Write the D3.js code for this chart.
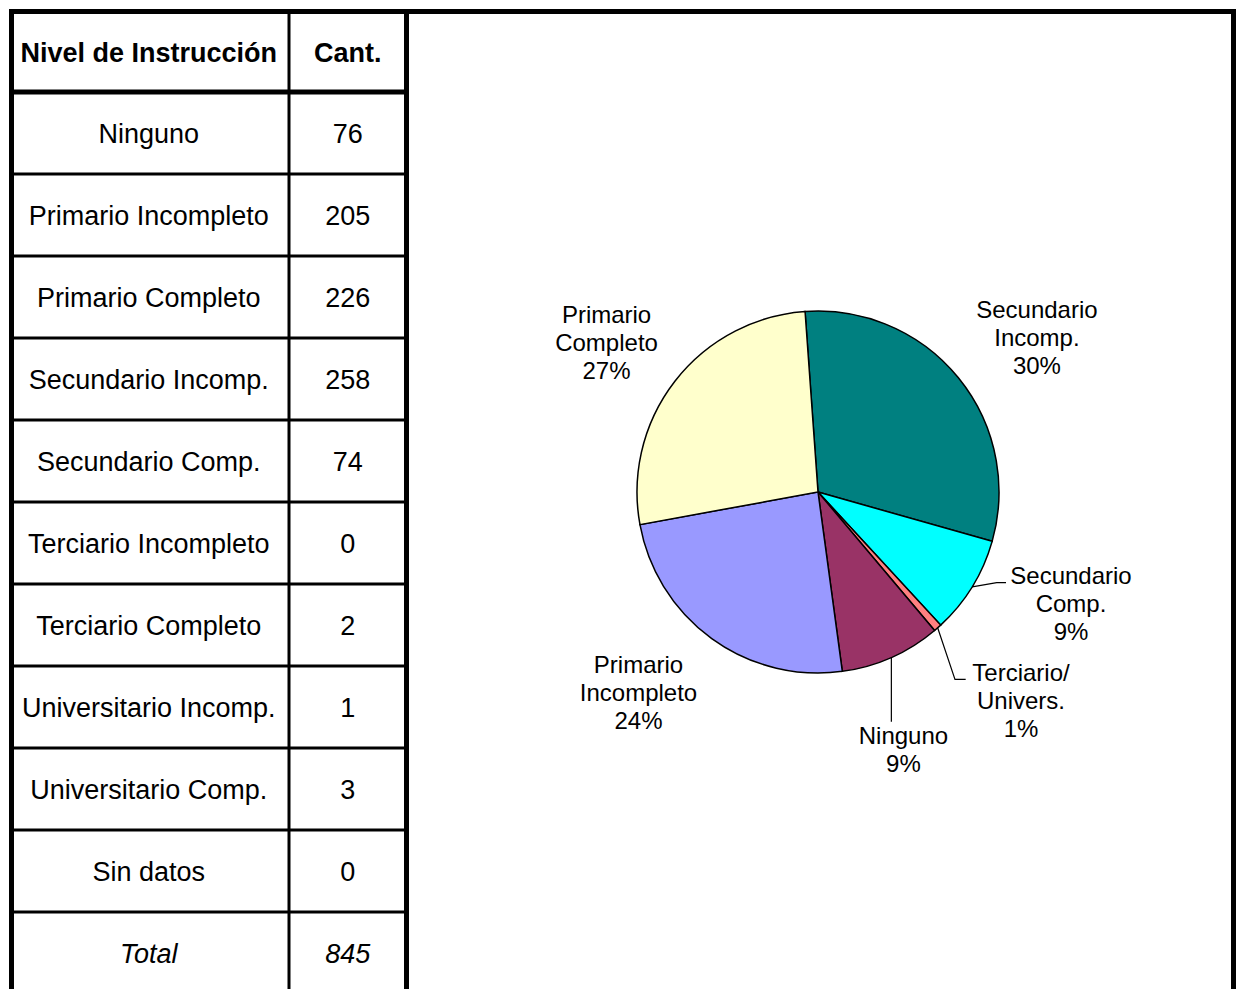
<!DOCTYPE html>
<html>
  <head>
    <meta charset="utf-8">
    <title>Nivel de Instrucción</title>
    <style>
      body { margin: 0; background: #fff; }
      svg { font-family: "Liberation Sans", Arial, sans-serif; }
      .cell { font-size: 27px; fill: #000; }
      .head { font-weight: bold; }
      .total { font-style: italic; }
      .plabel { font-size: 24px; fill: #000; }
      .slice { stroke: #000; stroke-width: 1.5; }
      .leader { stroke: #000; stroke-width: 1.2; fill: none; }
    </style>
    <script src="https://d3js.org/d3.v7.min.js"></script>
  </head>
  <body>
    <div id="chart"></div>
    <script>
      // table data
      var headers = ["Nivel de Instrucción", "Cant."];
      var categories = ["Ninguno", "Primario Incompleto", "Primario Completo", "Secundario Incomp.",
        "Secundario Comp.", "Terciario Incompleto", "Terciario Completo", "Universitario Incomp.",
        "Universitario Comp.", "Sin datos"];
      var counts = [76, 205, 226, 258, 74, 0, 2, 1, 3, 0];
      var totalLabel = "Total";
      var totalValue = 845;

      // pie data (clockwise from the top)
      var pieNames = ["Secundario Incomp.", "Secundario Comp.", "Terciario/ Univers.", "Ninguno",
        "Primario Incompleto", "Primario Completo"];
      var pieValues = [258, 74, 6, 76, 205, 226];
      var pieLines = [["Secundario", "Incomp."], ["Secundario", "Comp."], ["Terciario/", "Univers."],
        ["Ninguno"], ["Primario", "Incompleto"], ["Primario", "Completo"]];
      var piePct = ["30%", "9%", "1%", "9%", "24%", "27%"];
      var pieColors = ["#008080", "#00FFFF", "#FF8080", "#993366", "#9999FF", "#FFFFCC"];

      var W = 1238, H = 989;

      var svg = d3.select("#chart").append("svg")
        .attr("width", W)
        .attr("height", H);

      // ---- table ----
      var tableLeft = 11.5, colSplit = 289, tableRight = 406.5, frameRight = 1233.5;
      var frameTop = 11.5, headBottom = 92, rowH = 82;

      var rows = categories.concat([totalLabel]);
      var values = counts.concat([totalValue]);

      var y = d3.scaleBand()
        .domain(rows)
        .range([headBottom, headBottom + rowH * rows.length])
        .paddingInner(0);

      var col1 = (tableLeft + colSplit) / 2 - 1.5;
      var col2 = (colSplit + tableRight) / 2;

      var table = svg.append("g");

      // header text
      table.selectAll(".head")
        .data(headers).enter()
        .append("text")
        .attr("class", "cell head")
        .attr("text-anchor", "middle")
        .attr("x", (d, i) => i == 0 ? col1 : col2)
        .attr("y", (frameTop + headBottom) / 2 + 10)
        .text(d => d);

      var row = table.selectAll(".row")
        .data(rows).enter()
        .append("g")
        .attr("class", (d, i) => i == rows.length - 1 ? "row total" : "row")
        .attr("transform", d => `translate(0, ${y(d) + y.bandwidth() / 2 + 10})`);

      row.append("text")
        .attr("class", "cell")
        .attr("text-anchor", "middle")
        .attr("x", col1)
        .text(d => d);

      row.append("text")
        .attr("class", "cell")
        .attr("text-anchor", "middle")
        .attr("x", col2)
        .text((d, i) => values[i]);

      // row separators
      table.selectAll(".rline")
        .data(rows.slice(1)).enter()
        .append("line")
        .attr("x1", tableLeft).attr("x2", tableRight)
        .attr("y1", d => y(d)).attr("y2", d => y(d))
        .attr("stroke", "#000").attr("stroke-width", 3);

      table.append("line")
        .attr("x1", tableLeft).attr("x2", tableRight)
        .attr("y1", headBottom).attr("y2", headBottom)
        .attr("stroke", "#000").attr("stroke-width", 5);

      table.append("line")
        .attr("x1", colSplit).attr("x2", colSplit)
        .attr("y1", frameTop).attr("y2", H)
        .attr("stroke", "#000").attr("stroke-width", 3);

      // frame
      [tableLeft, tableRight, frameRight].forEach(function(x) {
        table.append("line")
          .attr("x1", x).attr("x2", x)
          .attr("y1", frameTop - 2.5).attr("y2", H)
          .attr("stroke", "#000").attr("stroke-width", 5);
      });
      table.append("line")
        .attr("x1", tableLeft - 2.5).attr("x2", frameRight + 2.5)
        .attr("y1", frameTop).attr("y2", frameTop)
        .attr("stroke", "#000").attr("stroke-width", 5);

      // ---- pie ----
      var cx = 818, cy = 492, radius = 181, labelRadius = 270;
      var start = -4.1 * Math.PI / 180;

      var pie = d3.pie()
        .sort(null)
        .startAngle(start)
        .endAngle(start + 2 * Math.PI);

      var arcs = pie(pieValues);

      var arc = d3.arc().innerRadius(0).outerRadius(radius);
      var labelArc = d3.arc().innerRadius(labelRadius).outerRadius(labelRadius);
      var edgeArc = d3.arc().innerRadius(radius).outerRadius(radius);

      // label nudges away from the label ring
      var nudge = [[9.5, 16], [23, -29.5], [24.5, 5.5], [-24, 11], [-21, -18], [2, 15.5]];
      // leader lines: [end dx, end dy, elbow length] relative to label centre
      var leaders = [null, [-65, -21.3, 9.3], [-55.3, -20.7, 10.7], ["edge", -28, 0], null, null];

      var g = svg.append("g")
        .attr("transform", `translate(${cx}, ${cy})`);

      g.selectAll(".slice")
        .data(arcs).enter()
        .append("path")
        .attr("class", "slice")
        .attr("d", arc)
        .attr("fill", (d, i) => pieColors[i]);

      var labelPos = arcs.map(function(d, i) {
        var c = labelArc.centroid(d);
        return [c[0] + nudge[i][0], c[1] + nudge[i][1]];
      });

      g.selectAll(".leader")
        .data(arcs.filter((d, i) => leaders[i])).enter()
        .append("path")
        .attr("class", "leader")
        .attr("d", function(d) {
          var i = d.index;
          var e = edgeArc.centroid(d);
          var L = leaders[i];
          var ex = L[0] == "edge" ? e[0] : labelPos[i][0] + L[0];
          var ey = labelPos[i][1] + L[1];
          var path = d3.path();
          path.moveTo(e[0], e[1]);
          if (L[2] > 0) path.lineTo(ex - L[2], ey);
          path.lineTo(ex, ey);
          return path.toString();
        });

      var lineH = 28;
      var labels = g.selectAll(".plabel")
        .data(arcs).enter()
        .append("text")
        .attr("class", "plabel")
        .attr("text-anchor", "middle");

      labels.each(function(d, i) {
        var lines = pieLines[i].concat([piePct[i]]);
        var p = labelPos[i];
        var y0 = p[1] - (lines.length - 1) * lineH / 2 + 8.5;
        d3.select(this).selectAll("tspan")
          .data(lines).enter()
          .append("tspan")
          .attr("x", p[0])
          .attr("y", (t, k) => y0 + k * lineH)
          .text(t => t);
      });
    </script>
  </body>
</html>
